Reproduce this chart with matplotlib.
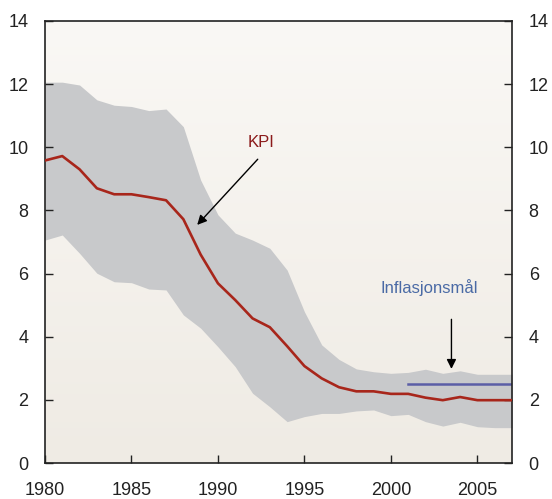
import matplotlib.pyplot as plt
import numpy as np
from matplotlib.colors import LinearSegmentedColormap

plt.rcParams['font.family'] = ['Liberation Sans', 'DejaVu Sans']

# Data
years = list(range(1980, 2008))
kpi = [9.58, 9.72, 9.30, 8.70, 8.51, 8.51, 8.42, 8.32, 7.72, 6.60,
       5.69, 5.16, 4.58, 4.30, 3.70, 3.07, 2.68, 2.40, 2.27, 2.27,
       2.19, 2.19, 2.07, 1.99, 2.09, 1.99, 1.99, 1.99]
band_upper = [12.06, 12.06, 11.97, 11.50, 11.33, 11.29, 11.16, 11.21, 10.65, 8.96,
              7.86, 7.28, 7.06, 6.80, 6.11, 4.79, 3.74, 3.28, 2.98, 2.89,
              2.84, 2.87, 2.97, 2.84, 2.92, 2.81, 2.81, 2.81]
band_lower = [7.06, 7.22, 6.64, 6.01, 5.74, 5.71, 5.51, 5.48, 4.69, 4.27,
              3.68, 3.05, 2.21, 1.78, 1.31, 1.47, 1.57, 1.57, 1.65, 1.68,
              1.50, 1.54, 1.31, 1.17, 1.29, 1.15, 1.12, 1.12]
target_years = [2001, 2007]
target = [2.5, 2.5]

fig = plt.figure(figsize=(5.52, 4.99), dpi=100)
ax = fig.add_axes([0.0815, 0.0721, 0.846, 0.886])

# bakgrunn med svak gradient
grad = np.linspace(0, 1, 256).reshape(-1, 1)
cmap = LinearSegmentedColormap.from_list('bg', ['#efebe4', '#faf8f5'])
ax.imshow(grad, aspect='auto', cmap=cmap, origin='lower',
          extent=[1980, 2007, 0, 14], zorder=0)

ax.fill_between(years, band_lower, band_upper, color='#c8c9cb', lw=0, zorder=1)
ax.plot(years, kpi, color='#a8261b', lw=1.9, zorder=3)
ax.plot(target_years, target, color='#5b5ea6', lw=1.8, zorder=2)

ax.set_xlim(1980, 2007)
ax.set_ylim(0, 14)
ax.set_xticks(range(1980, 2006, 5))
ax.set_yticks(range(0, 15, 2))
ax.tick_params(direction='in', length=6, width=1, labelsize=13,
               colors='#222222', right=True, labelright=True)
ax.tick_params(axis='y', pad=12)
ax.tick_params(axis='x', pad=14)
for s in ax.spines.values():
    s.set_color('#222222')
    s.set_linewidth(1.2)

ax.text(1992.5, 10.14, 'KPI', color='#8b1a1a', fontsize=12,
        ha='center', va='center')
ax.annotate('', xy=(1988.8, 7.54), xytext=(1992.3, 9.62),
            arrowprops=dict(arrowstyle='-|>', color='black', lw=1,
                            shrinkA=0, shrinkB=0, mutation_scale=14))
ax.annotate('', xy=(2003.5, 2.98), xytext=(2003.5, 4.55),
            arrowprops=dict(arrowstyle='-|>', color='black', lw=1,
                            shrinkA=0, shrinkB=0, mutation_scale=14))
ax.text(2002.2, 5.57, 'Inflasjonsmål', color='#4a6aa5', fontsize=12,
        ha='center', va='center')

plt.savefig('out.png', dpi=100)
